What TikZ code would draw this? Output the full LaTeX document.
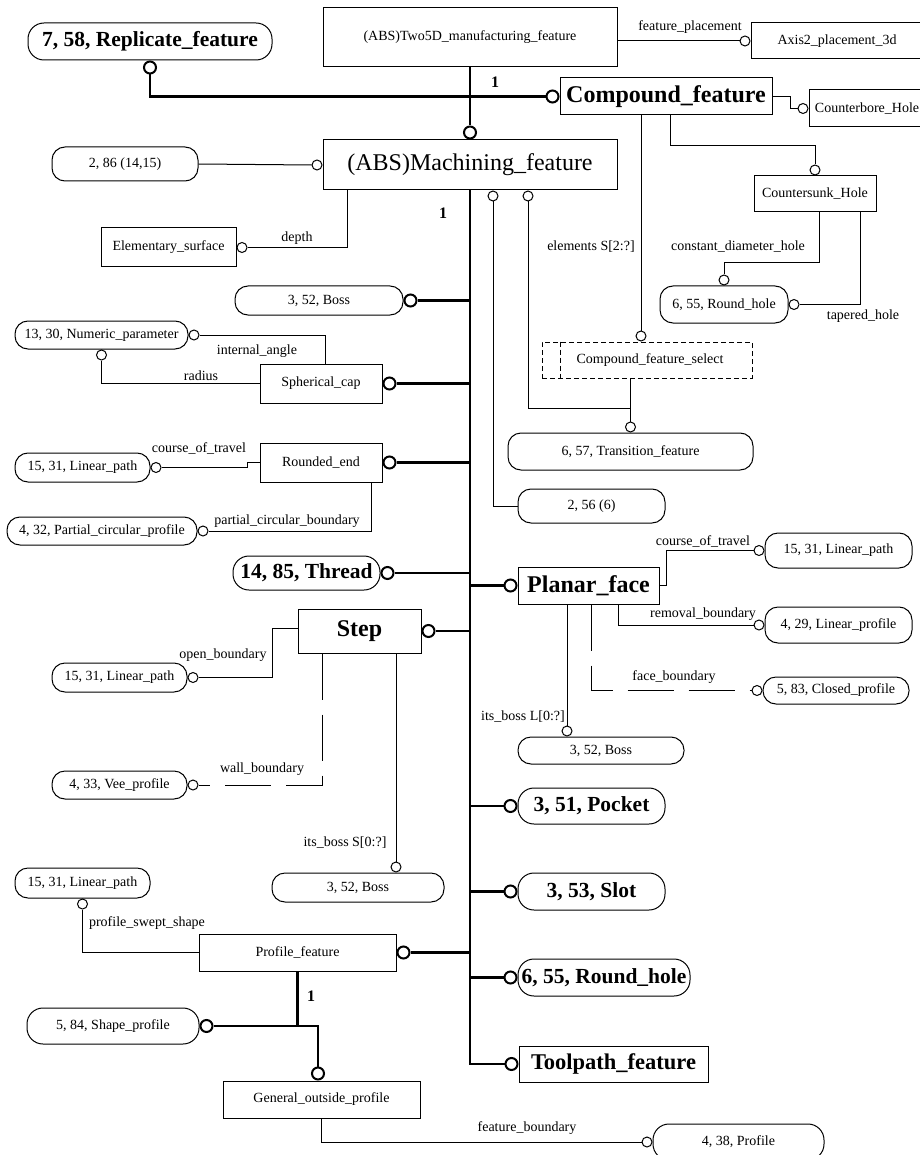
\documentclass[tikz,border=0pt]{standalone}
\usepackage{fontspec}
\setmainfont{Liberation Serif}
\begin{document}
\begin{tikzpicture}[x=1pt,y=-1pt,
  sz/.style 2 args={minimum width=#1pt, minimum height=#2pt},
  base/.style={draw, line width=1pt, inner sep=0pt, fill=white,
               font=\fontsize{14}{16}\selectfont},
  box/.style={base, rectangle},
  rbox/.style={base, rectangle, rounded corners=13pt},
  rbig/.style={base, rectangle, rounded corners=16pt},
  bigtxt/.style={font=\fontsize{24}{28}\selectfont},
  boldbig/.style={font=\bfseries\fontsize{24}{28}\selectfont},
  boldnum/.style={font=\bfseries\fontsize{21.5}{26}\selectfont},
  oc/.style={circle, draw, line width=1pt, fill=white, inner sep=0pt, minimum size=10pt},
  OC/.style={circle, draw, line width=2pt, fill=white, inner sep=0pt, minimum size=12pt},
  rel/.style={line width=1pt},
  sub/.style={line width=2.2pt},
  longdash/.style={rel, dash pattern=on 46pt off 15pt},
  lbl/.style={font=\fontsize{14}{16}\selectfont, inner sep=0pt},
  one/.style={font=\bfseries\fontsize{16}{18}\selectfont, inner sep=0pt}
]
\useasboundingbox (0,0) rectangle (919,1155);

% ---------- entities (boxes) ----------
\node[box, sz={294}{59}] (two5d) at (470,37.5) {(ABS)Two5D\_manufacturing\_feature};
\node[box, sz={172}{36}] (axis) at (837,41) {Axis2\_placement\_3d};
\node[box, sz={212}{37}, boldbig] (compound) at (666,96.5) {Compound\_feature};
\node[box, sz={116}{37}] (cbore) at (867,108.5) {Counterbore\_Hole};
\node[box, sz={294}{50}, bigtxt] (mach) at (470,165) {(ABS)Machining\_feature};
\node[box, sz={122}{36}] (csunk) at (815,194) {Countersunk\_Hole};
\node[box, sz={135}{39}] (elem) at (168.5,247.5) {Elementary\_surface};
\node[box, sz={210}{36}, dash pattern=on 5pt off 3pt] (select) at (647,360) {\hspace*{6pt}Compound\_feature\_select};
\draw[rel, dash pattern=on 5pt off 3pt] ([xshift=19]select.north west) -- ([xshift=19]select.south west);
\node[box, sz={122}{39}] (sphcap) at (321,383.5) {Spherical\_cap};
\node[box, sz={122}{39}] (rndend) at (321,462.5) {Rounded\_end};
\node[box, sz={141}{37}, boldbig] (planar) at (588.5,585.5) {Planar\_face};
\node[box, sz={123}{44}, boldbig] (step) at (359.5,631) {Step};
\node[box, sz={197}{37}] (proff) at (297.5,952.5) {Profile\_feature};
\node[box, sz={197}{37}] (gop) at (321.5,1099.5) {General\_outside\_profile};
\node[box, sz={189}{36}, font=\bfseries\fontsize{22.5}{26}\selectfont] (toolpath) at (613.5,1064) {Toolpath\_feature};

% ---------- referenced entities (rounded) ----------
\node[rbig, sz={244}{37}, boldnum] (repl) at (150,41.5) {7, 58, Replicate\_feature};
\node[rbox, sz={146}{34}] (n286) at (125,164) {2, 86 (14,15)};
\node[rbox, sz={128}{37}] (rhole1) at (724,304.5) {6, 55, Round\_hole};
\node[rbox, sz={245}{37}] (trans) at (630.5,451.5) {6, 57, Transition\_feature};
\node[rbox, sz={147}{34}] (n256) at (591.5,506) {2, 56 (6)};
\node[rbox, sz={168}{29}] (boss1) at (319,300.5) {3, 52, Boss};
\node[rbox, sz={173}{28}] (numpar) at (101.5,335) {13, 30, Numeric\_parameter};
\node[rbox, sz={135}{29}] (lp1) at (82.5,467.5) {15, 31, Linear\_path};
\node[rbox, sz={190}{28}] (pcp) at (102,531) {4, 32, Partial\_circular\_profile};
\node[rbig, sz={147}{34}, boldnum] (thread) at (306.5,573) {14, 85, Thread};
\node[rbox, sz={147}{35}] (lp2) at (838.5,550.5) {15, 31, Linear\_path};
\node[rbox, sz={147}{36}] (linprof) at (838.5,625) {4, 29, Linear\_profile};
\node[rbox, sz={146}{27}] (closed) at (836,690.5) {5, 83, Closed\_profile};
\node[rbox, sz={166}{27}] (boss2) at (601,750.5) {3, 52, Boss};
\node[rbig, sz={147}{36}, boldnum] (pocket) at (591.5,806) {3, 51, Pocket};
\node[rbox, sz={135}{29}] (lp3) at (119.5,677.5) {15, 31, Linear\_path};
\node[rbox, sz={135}{28}] (vee) at (119.5,785) {4, 33, Vee\_profile};
\node[rbox, sz={172}{29}] (boss3) at (358,887.5) {3, 52, Boss};
\node[rbig, sz={147}{37}, boldnum] (slot) at (591.5,891.5) {3, 53, Slot};
\node[rbig, sz={172}{37}, boldnum] (rhole2) at (604,977.5) {6, 55, Round\_hole};
\node[rbox, sz={135}{30}] (lp4) at (82.5,883) {15, 31, Linear\_path};
\node[rbig, sz={172}{36}] (shape) at (113,1026) {5, 84, Shape\_profile};
\node[rbig, sz={171}{36}] (profile) at (738.5,1142) {4, 38, Profile};

% ---------- relationship end circles ----------
\node[oc, anchor=east] (cAxis) at (axis.west) {};
\node[oc, anchor=east] (cCbore) at (cbore.west) {};
\node[oc, anchor=south] (cCsunk) at (csunk.north) {};
\node[oc, anchor=south] (cRh1) at (rhole1.north) {};
\node[oc, anchor=west] (cRh1b) at (rhole1.east) {};
\node[oc, anchor=south] (cSel) at ([xshift=-6]select.north) {};
\node[oc, anchor=south] (cTr) at (trans.north) {};
\node[oc, anchor=north] (cM1) at ([xshift=23]mach.south) {};
\node[oc, anchor=north] (cM2) at ([xshift=58]mach.south) {};
\node[oc, anchor=east] (cMw) at (mach.west) {};
\node[oc, anchor=west] (cEl) at (elem.east) {};
\node[oc, anchor=west] (cNp1) at (numpar.east) {};
\node[oc, anchor=north] (cNp2) at (numpar.south) {};
\node[oc, anchor=west] (cLp1) at (lp1.east) {};
\node[oc, anchor=west] (cPcp) at (pcp.east) {};
\node[oc, anchor=east] (cLp2) at (lp2.west) {};
\node[oc, anchor=east] (cLpr) at (linprof.west) {};
\node[oc, anchor=east] (cCl) at (closed.west) {};
\node[oc, anchor=south] (cB2) at ([xshift=-34]boss2.north) {};
\node[oc, anchor=west] (cLp3) at (lp3.east) {};
\node[oc, anchor=west] (cVee) at (vee.east) {};
\node[oc, anchor=south] (cB3) at ([xshift=38]boss3.north) {};
\node[oc, anchor=north] (cLp4) at (lp4.south) {};
\node[oc, anchor=east] (cPro) at (profile.west) {};

% ---------- subtype circles ----------
\node[OC, anchor=south] (cMach) at (mach.north) {};
\node[OC, anchor=north] (cRep) at (repl.south) {};
\node[OC, anchor=east] (cComp) at (compound.west) {};
\node[OC, anchor=east] (cTool) at (toolpath.west) {};
\node[OC, anchor=west] (cBoss1) at (boss1.east) {};
\node[OC, anchor=west] (cSph) at (sphcap.east) {};
\node[OC, anchor=west] (cRnd) at (rndend.east) {};
\node[OC, anchor=west] (cThr) at (thread.east) {};
\node[OC, anchor=west] (cStep) at (step.east) {};
\node[OC, anchor=west] (cProf) at (proff.east) {};
\node[OC, anchor=east] (cPlan) at (planar.west) {};
\node[OC, anchor=east] (cPock) at (pocket.west) {};
\node[OC, anchor=east] (cSlot) at (slot.west) {};
\node[OC, anchor=east] (cRh2) at (rhole2.west) {};
\node[OC, anchor=west] (cShape) at (shape.east) {};
\node[OC, anchor=south] (cGop) at ([xshift=-3.5]gop.north) {};

\coordinate (j1) at (631,408);

% ---------- subtype (thick) lines ----------
\draw[sub] (two5d.south) -- (cMach.north);
\draw[sub] (cRep.south) |- (cComp.west);
\draw[sub] (mach.south) |- (cTool.west);
\foreach \c in {cBoss1,cSph,cRnd,cThr,cStep,cProf}
  \draw[sub] (\c.east) -- (\c.east -| mach.south);
\foreach \c in {cPlan,cPock,cSlot,cRh2}
  \draw[sub] (\c.west -| mach.south) -- (\c.west);
\draw[sub] (proff.south) -- (proff.south |- cShape.east) -- (cShape.east);
\draw[sub] (proff.south |- cShape.east) -| (cGop.north);

% ---------- attribute (thin) lines ----------
\draw[rel] (two5d.east |- cAxis) -- (cAxis.west);
\draw[rel] (compound.east) -- ++(18,0) |- (cCbore.west);
\draw[rel] ([xshift=4]compound.south) -- ++(0,30) -| (cCsunk.north);
\draw[rel] ([xshift=4]csunk.south) -- ++(0,50) -| (cRh1.north);
\draw[rel] ([xshift=45]csunk.south) |- (cRh1b.east);
\draw[rel] (cSel.north |- compound.south) -- (cSel.north);
\draw[rel] (cTr.north |- select.south) -- (cTr.north);
\draw[rel] (cM2.south) |- (j1);
\draw[rel] (cM1.south) |- (n256.west);
\draw[rel] (n286.east) -- (cMw.west);
\draw[rel] ([xshift=-123]mach.south) |- (cEl.east);
\draw[rel] ([xshift=4]sphcap.north) |- (cNp1.east);
\draw[rel] (sphcap.west) -| (cNp2.south);
\draw[rel] (rndend.west) -- ++(-12,0) |- (cLp1.east);
\draw[rel] ([xshift=50]rndend.south) |- (cPcp.east);
\draw[rel] (planar.east) -- ++(7,0) |- (cLp2.west);
\draw[rel] ([xshift=30]planar.south) |- (cLpr.west);
\draw[longdash] ([xshift=3]planar.south) |- (cCl.west);
\draw[rel] (cB2.north |- planar.south) -- (cB2.north);
\draw[rel] ([yshift=3]step.west) -- ++(-25,0) |- (cLp3.east);
\draw[longdash] ([xshift=-37.5]step.south) |- (cVee.east);
\draw[rel] (cB3.north |- step.south) -- (cB3.north);
\draw[rel] (proff.west) -| (cLp4.south);
\draw[rel] (gop.south) |- (cPro.west);

% ---------- labels ----------
\node[lbl] (l1) at (690,27) {feature\_placement};
\node[lbl] (l2) at (297,238) {depth};
\node[lbl] (l3) at (591,247) {elements S[2:?]};
\node[lbl] (l4) at (738,247) {constant\_diameter\_hole};
\node[lbl] (l5) at (863,316) {tapered\_hole};
\node[lbl] (l6) at (257,351) {internal\_angle};
\node[lbl] (l7) at (201,376) {radius};
\node[lbl] (l8) at (199,448) {course\_of\_travel};
\node[lbl] (l9) at (287,521) {partial\_circular\_boundary};
\node[lbl] (l10) at (703,541) {course\_of\_travel};
\node[lbl] (l11) at (703,614) {removal\_boundary};
\node[lbl] (l12) at (674,677) {face\_boundary};
\node[lbl] (l13) at (523,717) {its\_boss L[0:?]};
\node[lbl] (l14) at (223,655) {open\_boundary};
\node[lbl] (l15) at (262,769) {wall\_boundary};
\node[lbl] (l16) at (345,843) {its\_boss S[0:?]};
\node[lbl] (l17) at (147,923) {profile\_swept\_shape};
\node[lbl] (l18) at (527,1128) {feature\_boundary};
\node[one] (o1) at (495,82) {1};
\node[one] (o2) at (443,213) {1};
\node[one] (o3) at (311,996) {1};
\end{tikzpicture}
\end{document}
